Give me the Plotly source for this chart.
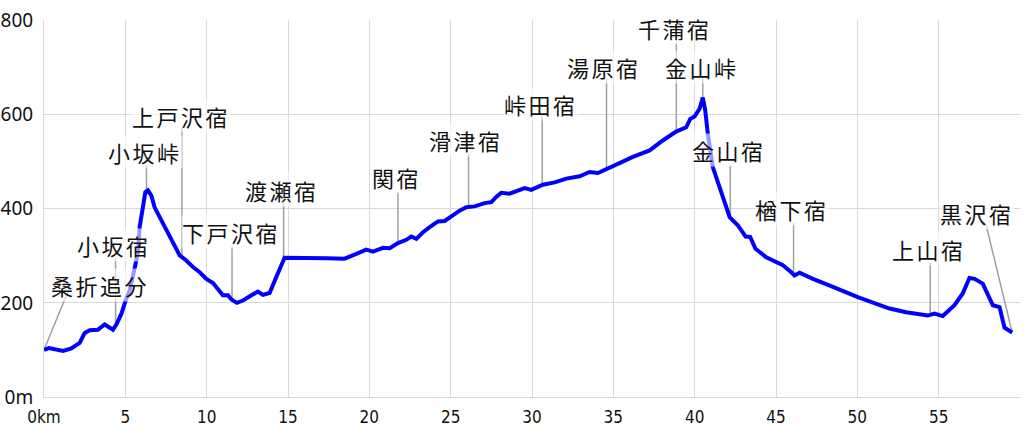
import numpy as np
import plotly.graph_objects as go

# ---- elevation profile (distance km, elevation m) ----
dist_km = [0, 0.3, 1.17, 1.68, 2.19, 2.5, 2.81, 3.32, 3.73, 3.93, 4.24, 4.45, 4.76, 5.02, 5.27,
           5.57, 5.78, 5.88, 6.05, 6.23, 6.39, 6.6, 6.8, 7.11, 7.52, 7.93, 8.34, 8.75, 9.16, 9.57,
           9.98, 10.39, 10.8, 11.0, 11.31, 11.52, 11.86, 12.23, 12.75, 13.15, 13.46, 13.87, 14.28,
           14.79, 17.36, 18.48, 19.2, 19.81, 20.22, 20.84, 21.25, 21.76, 22.27, 22.58, 22.89, 23.3,
           23.71, 24.22, 24.63, 24.94, 25.55, 25.96, 26.47, 27.09, 27.5, 27.8, 28.11, 28.62, 29.24,
           29.55, 29.96, 30.67, 31.39, 32.11, 32.93, 33.54, 34.05, 34.67, 35.38, 36.2, 37.23, 38.04,
           38.86, 39.48, 39.73, 39.99, 40.3, 40.5, 40.65, 40.81, 41.12, 41.53, 42.15, 42.65, 43.13,
           43.41, 43.74, 44.4, 45.42, 45.94, 46.14, 46.45, 47.27, 48.5, 50.03, 51.98, 53.0, 54.33,
           54.74, 55.25, 55.97, 56.48, 56.89, 57.2, 57.71, 58.33, 58.74, 59.05, 59.52]
elev_m = [100, 104, 98, 103, 115, 136, 142, 143, 154, 149, 143, 154, 177, 205, 227,
          273, 308, 361, 397, 435, 439, 428, 403, 382, 354, 326, 301, 290, 276, 265,
          251, 242, 223, 216, 216, 207, 200, 205, 216, 224, 217, 221, 255,
          296, 295, 294, 304, 313, 309, 317, 316, 327, 334, 341, 336, 350,
          361, 373, 374, 382, 396, 403, 405, 412, 414, 425, 434, 432, 439,
          444, 440, 451, 456, 464, 469, 478, 476, 485, 497, 510, 524, 545,
          564, 573, 591, 596, 612, 636, 609, 559, 488, 446, 382, 365, 341,
          340, 315, 297, 280, 265, 258, 264, 251, 234, 212, 188, 180, 173,
          177, 172, 195, 220, 253, 251, 241, 195, 191, 147, 137]

# ---- places along the route ----
place_names = ["桑折追分", "小坂宿", "小坂峠", "上戸沢宿", "下戸沢宿", "渡瀬宿", "関宿", "滑津宿",
               "峠田宿", "湯原宿", "千蒲宿", "金山峠", "金山宿", "楢下宿", "上山宿", "黒沢宿"]
place_km = [0.0, 4.4, 6.3, 8.48, 11.56, 14.73, 21.76, 26.1,
            30.63, 34.58, 38.87, 40.5, 42.19, 46.08, 54.48, 59.52]

# ---- label placement (layout) ----
label_x = [3.42, 4.28, 6.19, 8.4, 11.48, 14.61, 21.68, 25.96,
           30.53, 34.4, 38.76, 40.42, 42.08, 45.96, 54.38, 57.33]
label_y = [239, 322, 520, 598, 350, 439, 467, 546,
           623, 702, 783, 702, 524, 400, 315, 392]
leader_top_x = [1.58, 4.4, 6.3, 8.48, 11.56, 14.73, 21.76, 26.1,
                30.63, 34.58, 38.87, 40.5, 42.19, 46.08, 54.48, 57.92]
leader_top_y = [233, 295, 492, 573, 320, 411, 435, 517,
                598, 677, 753, 679, 492, 371, 286, 365]

x_tickvals = [0, 5, 10, 15, 20, 25, 30, 35, 40, 45, 50, 55]
x_ticktext = ["0km", "5", "10", "15", "20", "25", "30", "35", "40", "45", "50", "55"]
y_tickvals = [0, 200, 400, 600, 800]
y_ticktext = ["0m", "200", "400", "600", "800"]

place_elev = np.interp(place_km, dist_km, elev_m)

fig = go.Figure()
fig.add_trace(go.Scatter(x=dist_km, y=elev_m, mode="lines",
                         line=dict(color="#0000ff", width=4),
                         hoverinfo="skip", showlegend=False))

shapes = []
annotations = []
for name, km, el, lx, ly, tx, ty in zip(place_names, place_km, place_elev,
                                        label_x, label_y, leader_top_x, leader_top_y):
    shapes.append(dict(type="line", xref="x", yref="y", x0=km, y0=el, x1=tx, y1=ty,
                       line=dict(color="#a0a0a0", width=1.5), layer="between"))
    annotations.append(dict(x=lx, y=ly, xref="x", yref="y", showarrow=False,
                            text='<span style="letter-spacing:2.5px">' + name + '</span>',
                            font=dict(family="Noto Sans CJK JP", size=22, color="#111111"),
                            bgcolor="rgba(255,255,255,0.6)", borderpad=0,
                            xanchor="center", yanchor="middle"))

fig.update_layout(
    width=1024, height=430,
    margin=dict(l=44, r=4, t=20, b=33, autoexpand=False),
    paper_bgcolor="white", plot_bgcolor="white",
    shapes=shapes, annotations=annotations,
    xaxis=dict(range=[0, 60], tickvals=x_tickvals, ticktext=x_ticktext,
               showgrid=True, gridcolor="#d9d9d9", gridwidth=1, zeroline=False,
               showline=True, linecolor="#d9d9d9", linewidth=1,
               ticks="", ticklabelstandoff=5,
               tickfont=dict(family="Liberation Sans Narrow, DejaVu Sans Condensed", size=17, color="#111111")),
    yaxis=dict(range=[0, 801], tickvals=y_tickvals, ticktext=y_ticktext,
               showgrid=True, gridcolor="#d9d9d9", gridwidth=1, zeroline=False,
               showline=True, linecolor="#d9d9d9", linewidth=1,
               ticks="", ticklabelstandoff=6,
               tickfont=dict(family="Noto Sans", size=19, color="#111111")),
)

# remove the browser's default body margin so the figure fills the window exactly
fig.write_html("out.html", config={"displayModeBar": False},
               post_script="document.body.style.margin='0';")
